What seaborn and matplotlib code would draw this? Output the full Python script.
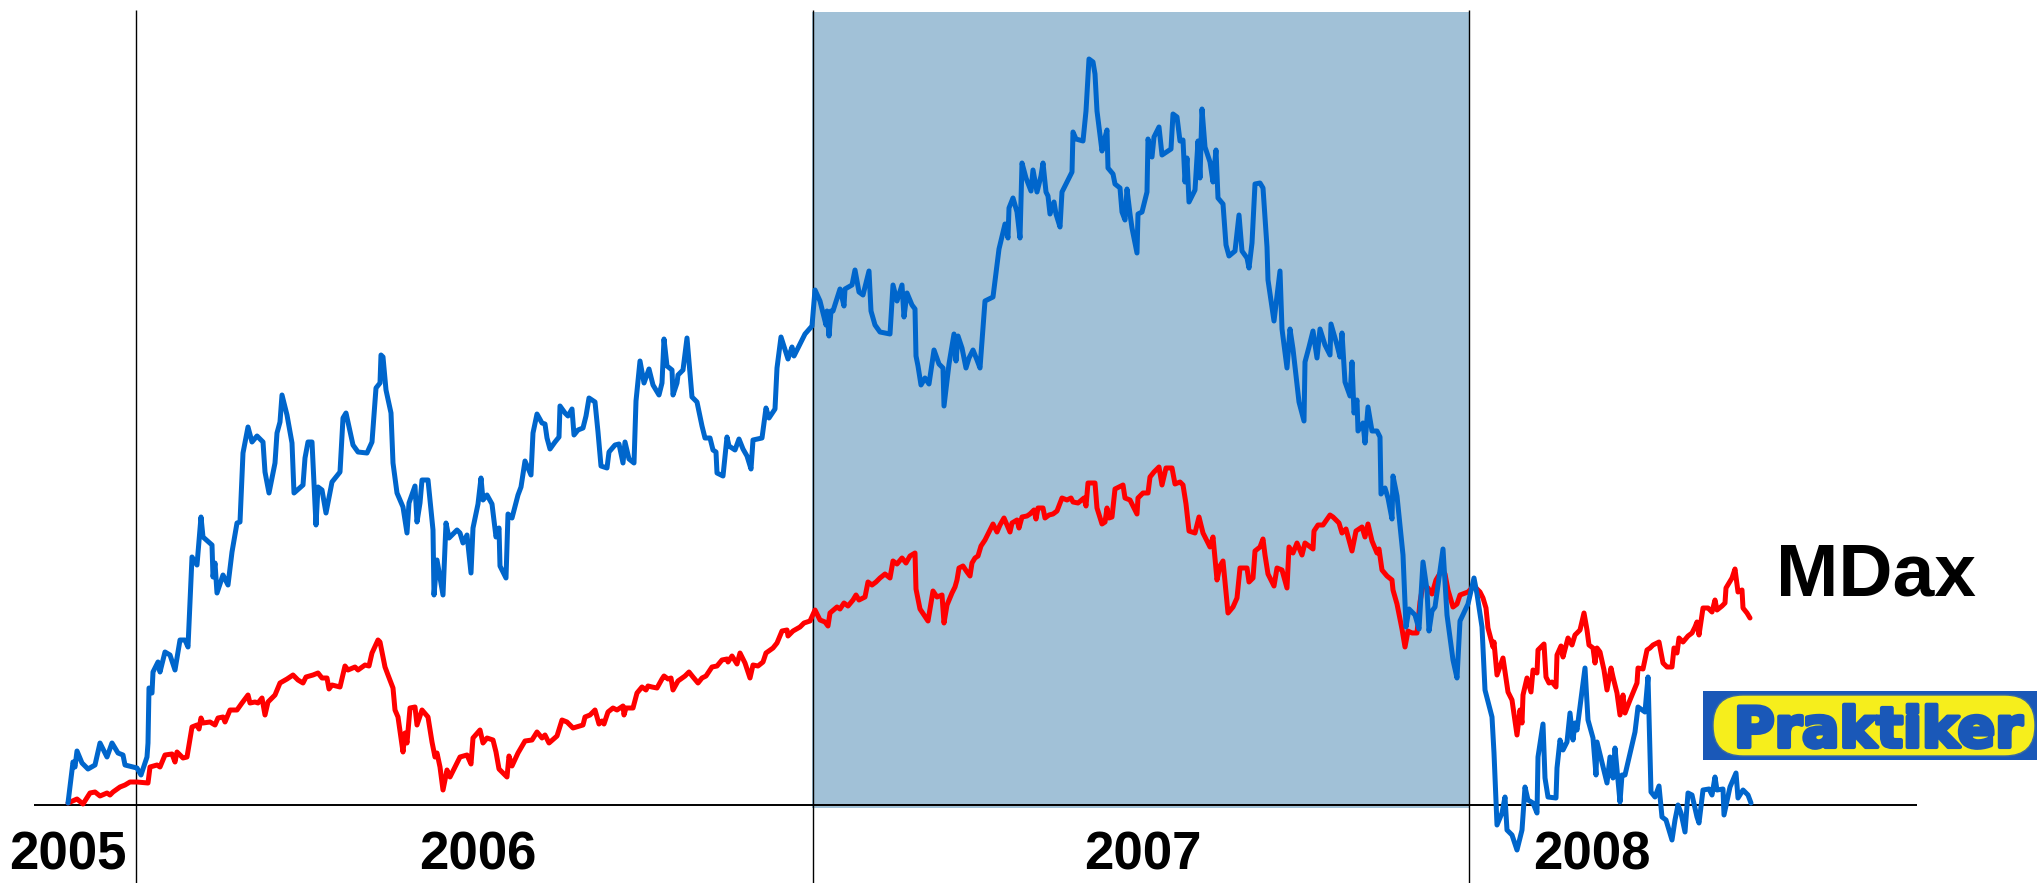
import numpy as np
import pandas as pd
import matplotlib.pyplot as plt
import matplotlib.patheffects as pe
import seaborn as sns
from matplotlib.patches import Rectangle, FancyBboxPatch

# Kursverlauf (Index-Punkte, Startwert = 0), x = Handelstag-Index
tag_blau = [0, 5, 7, 9, 14, 20, 27, 32, 39, 44, 50, 55, 57, 69, 73, 79, 80, 81, 84, 85,
            90, 92, 97, 102, 107, 112, 117, 120, 124, 129, 133, 135, 144, 145, 147, 149, 155, 160, 164, 169,
            172, 175, 180, 184, 189, 195, 197, 201, 207, 209, 212, 214, 219, 224, 226, 235, 237, 240, 244, 248,
            250, 254, 258, 264, 272, 275, 278, 285, 290, 299, 304, 308, 312, 313, 315, 318, 323, 325, 329, 335,
            339, 341, 347, 349, 352, 354, 360, 365, 366, 369, 375, 378, 381, 389, 392, 395, 399, 403, 405, 410,
            413, 415, 419, 424, 428, 431, 432, 438, 440, 444, 450, 453, 457, 463, 465, 469, 474, 477, 479, 482,
            487, 491, 492, 497, 500, 504, 506, 510, 515, 518, 521, 527, 530, 533, 539, 541, 547, 551, 555, 557,
            561, 566, 568, 572, 576, 581, 585, 591, 594, 596, 599, 604, 605, 609, 610, 615, 619, 624, 629, 634,
            637, 642, 645, 648, 649, 655, 659, 661, 667, 671, 675, 679, 683, 685, 694, 698, 701, 707, 709, 713,
            720, 724, 726, 737, 744, 747, 752, 758, 759, 761, 763, 765, 772, 776, 777, 784, 787, 791, 795, 801,
            803, 807, 812, 822, 825, 829, 834, 836, 839, 844, 847, 848, 850, 853, 857, 861, 866, 871, 875, 876,
            881, 886, 888, 890, 894, 898, 901, 905, 909, 912, 917, 925, 931, 937, 940, 941, 945, 949, 952, 954,
            958, 963, 965, 969, 973, 975, 978, 980, 982, 986, 988, 992, 994, 999, 1004, 1005, 1008, 1015, 1018, 1021,
            1025, 1027, 1029, 1034, 1036, 1039, 1040, 1045, 1047, 1052, 1054, 1057, 1059, 1062, 1064, 1069, 1070, 1074, 1079, 1080,
            1084, 1086, 1091, 1094, 1103, 1105, 1109, 1112, 1115, 1117, 1119, 1121, 1127, 1130, 1132, 1134, 1137, 1142, 1145, 1148,
            1150, 1155, 1158, 1161, 1167, 1171, 1174, 1179, 1181, 1184, 1187, 1192, 1195, 1199, 1200, 1206, 1212, 1214, 1219, 1222,
            1225, 1231, 1236, 1237, 1241, 1245, 1249, 1252, 1257, 1262, 1263, 1269, 1272, 1274, 1277, 1282, 1284, 1286, 1289, 1290,
            1295, 1297, 1300, 1304, 1309, 1312, 1313, 1317, 1320, 1324, 1325, 1329, 1335, 1338, 1341, 1347, 1351, 1355, 1359, 1361,
            1364, 1367, 1375, 1379, 1385, 1389, 1392, 1400, 1406, 1409, 1414, 1417, 1424, 1426, 1429, 1434, 1437, 1439, 1444, 1449,
            1454, 1457, 1460, 1465, 1469, 1470, 1475, 1477, 1480, 1488, 1489, 1492, 1495, 1499, 1502, 1505, 1507, 1509, 1517, 1520,
            1525, 1528, 1529, 1539, 1542, 1545, 1547, 1552, 1554, 1557, 1567, 1570, 1577, 1580, 1582, 1583, 1587, 1591, 1594, 1598,
            1604, 1607, 1610, 1613, 1617, 1620, 1624, 1629, 1631, 1635, 1641, 1644, 1647, 1649, 1655, 1656, 1662, 1668, 1670, 1675,
            1680, 1683]
praktiker = [2, 43, 38, 54, 42, 36, 40, 62, 48, 62, 52, 50, 40, 37, 30, 48, 62, 117, 112, 133,
             143, 133, 153, 150, 135, 165, 165, 158, 248, 240, 288, 268, 260, 228, 242, 212, 230, 220, 253, 282,
             283, 352, 378, 363, 369, 363, 333, 312, 342, 372, 383, 410, 390, 362, 312, 320, 347, 363, 363, 280,
             318, 315, 292, 323, 333, 387, 392, 360, 353, 352, 363, 417, 422, 450, 448, 415, 392, 342, 312, 298,
             272, 302, 319, 283, 302, 325, 325, 275, 210, 245, 210, 282, 267, 275, 272, 262, 270, 232, 277, 301,
             327, 305, 310, 301, 268, 277, 239, 227, 291, 287, 310, 318, 344, 330, 372, 391, 382, 381, 367, 356,
             363, 368, 399, 392, 389, 396, 370, 375, 377, 389, 407, 403, 373, 339, 337, 353, 360, 361, 342, 363,
             346, 342, 404, 444, 422, 436, 420, 410, 422, 466, 439, 435, 410, 422, 430, 435, 467, 408, 403, 379,
             367, 367, 355, 353, 332, 329, 368, 359, 355, 366, 356, 349, 336, 365, 367, 397, 387, 396, 437, 468,
             446, 458, 449, 471, 479, 515, 504, 480, 494, 469, 494, 494, 516, 499, 516, 520, 535, 513, 510, 534,
             494, 480, 473, 471, 520, 504, 520, 488, 512, 500, 496, 449, 439, 420, 427, 421, 455, 441, 437, 399,
             441, 471, 444, 469, 457, 437, 447, 455, 445, 437, 504, 508, 556, 581, 567, 597, 607, 593, 567, 642,
             627, 614, 635, 613, 629, 642, 613, 609, 591, 603, 591, 578, 613, 623, 633, 673, 666, 664, 694, 746,
             743, 731, 694, 654, 664, 675, 637, 631, 621, 617, 593, 585, 616, 591, 577, 552, 591, 593, 613, 666,
             648, 668, 678, 650, 656, 691, 688, 664, 665, 623, 647, 603, 615, 664, 627, 696, 658, 643, 623, 655,
             607, 601, 560, 549, 554, 590, 554, 547, 537, 562, 621, 622, 617, 558, 525, 484, 534, 476, 437, 476,
             456, 403, 384, 443, 458, 474, 447, 476, 460, 450, 481, 460, 448, 472, 423, 409, 443, 392, 405, 374,
             382, 362, 398, 374, 374, 368, 311, 317, 307, 286, 329, 309, 250, 178, 196, 190, 176, 243, 215, 174,
             194, 198, 256, 190, 145, 127, 184, 201, 227, 211, 178, 115, 88, 52, -20, -8, 8, -25, -30, -45,
             -25, 18, 5, 2, -8, 48, 81, 27, 8, 7, 37, 65, 55, 63, 92, 65, 82, 75, 137, 85,
             67, 30, 63, 22, 48, 27, 57, 3, 30, 30, 73, 98, 93, 128, 52, 13, 8, 19, -12, -15,
             -35, -15, 0, -8, -27, 12, 10, -12, -18, 15, 16, 10, 28, 15, 16, -10, 18, 32, 7, 15,
             10, 2]

tag_rot = [0, 9, 15, 22, 27, 32, 39, 42, 45, 52, 57, 62, 69, 80, 82, 89, 92, 97, 104, 107,
           109, 115, 119, 124, 129, 131, 133, 135, 142, 147, 150, 155, 157, 162, 169, 174, 180, 182, 187, 190,
           194, 197, 200, 207, 212, 219, 225, 230, 235, 238, 245, 250, 254, 259, 261, 264, 272, 277, 280, 287,
           290, 297, 301, 304, 310, 312, 317, 320, 325, 327, 330, 335, 337, 339, 342, 347, 349, 354, 360, 364,
           367, 369, 372, 375, 379, 382, 387, 392, 399, 403, 405, 412, 415, 419, 425, 428, 431, 439, 441, 444,
           450, 457, 464, 469, 474, 477, 481, 489, 494, 499, 505, 515, 517, 522, 527, 531, 534, 536, 540, 545,
           549, 555, 556, 558, 565, 569, 574, 578, 580, 584, 589, 594, 596, 600, 603, 605, 610, 617, 621, 625,
           630, 634, 638, 644, 649, 654, 659, 660, 664, 669, 672, 677, 682, 685, 690, 695, 698, 705, 709, 714,
           719, 720, 725, 732, 736, 742, 747, 752, 757, 760, 762, 769, 772, 776, 780, 785, 788, 791, 797, 800,
           804, 808, 812, 817, 822, 825, 829, 834, 838, 842, 847, 848, 852, 856, 860, 862, 865, 869, 874, 876,
           879, 884, 887, 889, 891, 895, 899, 902, 904, 907, 910, 913, 917, 922, 925, 929, 932, 936, 942, 944,
           949, 951, 954, 959, 962, 966, 968, 970, 975, 977, 981, 985, 989, 994, 999, 1003, 1005, 1010, 1016, 1018,
           1020, 1027, 1029, 1034, 1037, 1039, 1041, 1044, 1047, 1055, 1057, 1062, 1069, 1070, 1075, 1080, 1082, 1086, 1091, 1094,
           1098, 1104, 1107, 1112, 1115, 1118, 1121, 1127, 1131, 1135, 1138, 1142, 1145, 1149, 1152, 1155, 1160, 1165, 1169, 1172,
           1179, 1181, 1185, 1187, 1192, 1195, 1197, 1200, 1206, 1209, 1214, 1219, 1221, 1225, 1229, 1234, 1237, 1245, 1246, 1250,
           1255, 1262, 1265, 1271, 1274, 1278, 1284, 1288, 1294, 1297, 1300, 1304, 1309, 1311, 1314, 1319, 1324, 1325, 1329, 1334,
           1337, 1340, 1344, 1349, 1352, 1355, 1360, 1364, 1368, 1374, 1377, 1380, 1385, 1389, 1392, 1400, 1406, 1412, 1415, 1418,
           1420, 1425, 1426, 1429, 1435, 1440, 1444, 1449, 1452, 1454, 1455, 1459, 1463, 1465, 1469, 1470, 1476, 1478, 1481, 1484,
           1488, 1489, 1493, 1495, 1500, 1504, 1507, 1512, 1516, 1519, 1521, 1525, 1527, 1529, 1532, 1536, 1539, 1543, 1545, 1549,
           1552, 1555, 1557, 1562, 1569, 1570, 1575, 1579, 1582, 1585, 1591, 1595, 1599, 1604, 1606, 1609, 1611, 1615, 1620, 1624,
           1627, 1629, 1631, 1635, 1640, 1644, 1647, 1649, 1654, 1657, 1658, 1664, 1667, 1670, 1674, 1675, 1679, 1682]
mdax = [2, 6, 1, 12, 13, 9, 12, 10, 13, 18, 20, 23, 23, 22, 38, 40, 38, 50, 51, 43,
        53, 47, 48, 78, 80, 76, 87, 82, 83, 80, 87, 88, 83, 95, 95, 102, 110, 102, 103, 102,
        107, 90, 103, 110, 122, 126, 130, 125, 122, 128, 130, 132, 127, 127, 116, 120, 118, 139, 135, 138,
        135, 140, 139, 152, 165, 163, 138, 130, 117, 95, 88, 53, 72, 62, 97, 98, 80, 95, 88, 63,
        48, 52, 38, 15, 35, 28, 38, 48, 50, 41, 67, 75, 62, 67, 65, 53, 36, 28, 49, 39,
        52, 64, 65, 73, 67, 70, 62, 69, 85, 83, 77, 80, 88, 90, 95, 81, 84, 81, 93, 97,
        95, 99, 90, 97, 97, 112, 118, 115, 119, 118, 117, 126, 129, 126, 127, 115, 124, 129, 133, 128,
        122, 127, 129, 138, 139, 145, 146, 143, 149, 141, 152, 142, 127, 140, 139, 143, 152, 157, 162, 174,
        175, 169, 174, 178, 182, 184, 195, 185, 183, 179, 192, 198, 196, 202, 199, 205, 210, 205, 208, 223,
        220, 223, 227, 231, 227, 244, 241, 247, 242, 249, 252, 216, 196, 190, 184, 196, 214, 208, 210, 182,
        200, 212, 218, 225, 237, 239, 233, 229, 242, 247, 249, 259, 265, 275, 281, 273, 280, 287, 273, 282,
        285, 277, 288, 289, 291, 295, 286, 297, 297, 287, 290, 291, 294, 307, 305, 307, 303, 302, 307, 299,
        322, 322, 297, 281, 283, 297, 287, 288, 316, 320, 307, 305, 291, 307, 312, 312, 328, 333, 338, 320,
        337, 337, 321, 323, 320, 301, 274, 272, 288, 272, 266, 258, 268, 225, 239, 244, 192, 198, 207, 237,
        237, 223, 227, 254, 258, 266, 250, 231, 219, 237, 235, 217, 258, 252, 262, 250, 262, 256, 274, 280,
        280, 290, 288, 282, 272, 276, 254, 274, 278, 268, 281, 264, 252, 256, 235, 229, 225, 215, 201, 176,
        158, 174, 172, 172, 203, 220, 217, 211, 225, 235, 231, 215, 198, 201, 210, 213, 219, 213, 207, 197,
        177, 158, 163, 130, 147, 113, 105, 70, 95, 82, 110, 127, 113, 135, 132, 155, 161, 128, 122, 123,
        118, 150, 159, 148, 167, 160, 170, 175, 192, 175, 160, 157, 142, 157, 153, 135, 115, 137, 128, 112,
        90, 110, 92, 105, 122, 137, 136, 155, 157, 160, 163, 142, 138, 138, 157, 152, 167, 163, 169, 172,
        178, 183, 170, 197, 197, 193, 205, 195, 199, 202, 217, 227, 236, 213, 215, 197, 192, 187]

jahre = ["2005", "2006", "2007", "2008"]
jahr_x = [0, 410, 1075, 1524]           # Position der Jahresbeschriftung (Tag-Index)
jahreswechsel = [68, 745, 1401]         # Tag-Index der Jahresgrenzen
markiert = (744, 1401)                  # hervorgehobenes Jahr 2007

sns.set_style("white")
plt.rcParams['font.family'] = ['Liberation Sans', 'DejaVu Sans']

fig = plt.figure(figsize=(20.37, 8.83), dpi=100)
ax = fig.add_axes([0, 0, 1, 1])

# 2007 blau hinterlegt
ax.fill_between(list(markiert), -3, 793, color="#a1c1d7", lw=0, zorder=0)

# Jahresgrenzen und Zeitachse
ax.vlines(jahreswechsel, -78, 795, color="black", lw=1.0, zorder=1)
ax.hlines(0, -34, 1849, color="black", lw=1.4, zorder=2)

sns.lineplot(x=tag_rot, y=mdax, ax=ax, color="#ff0000",
             estimator=None, sort=False, zorder=3)
sns.lineplot(x=tag_blau, y=praktiker, ax=ax, color="#0066cc",
             estimator=None, sort=False, zorder=4)
for line in ax.get_lines():
    line.set_linewidth(3.6)
    line.set_solid_joinstyle("round")

for label, xpos in zip(jahre, jahr_x):
    ax.text(xpos, -64, label, ha="center", va="baseline", fontsize=38,
            fontweight="bold", color="black")

ax.text(1808, 210, "MDax", ha="center", va="baseline", fontsize=54,
        fontweight="bold", color="black")

# Praktiker-Logo
logo_blau = "#1a58b8"
ax.add_patch(Rectangle((1635, 45), 400, 69, color=logo_blau, lw=0, zorder=5))
ax.add_patch(FancyBboxPatch((1645, 49), 322, 61,
                            boxstyle="round,pad=0,rounding_size=30",
                            fc="#f6ee1c", ec="#3a6aa0", lw=1.0, zorder=6))
ax.text(1810, 58, "Praktiker", ha="center", va="baseline", fontsize=40,
        fontweight="bold", color=logo_blau, family="DejaVu Sans", zorder=7,
        path_effects=[pe.withStroke(linewidth=3, foreground=logo_blau)])

ax.set_xlim(-68, 1969)
ax.set_ylim(-78, 805)
ax.axis("off")
if ax.get_legend() is not None:
    ax.get_legend().remove()

fig.savefig("out.png", dpi=100)
